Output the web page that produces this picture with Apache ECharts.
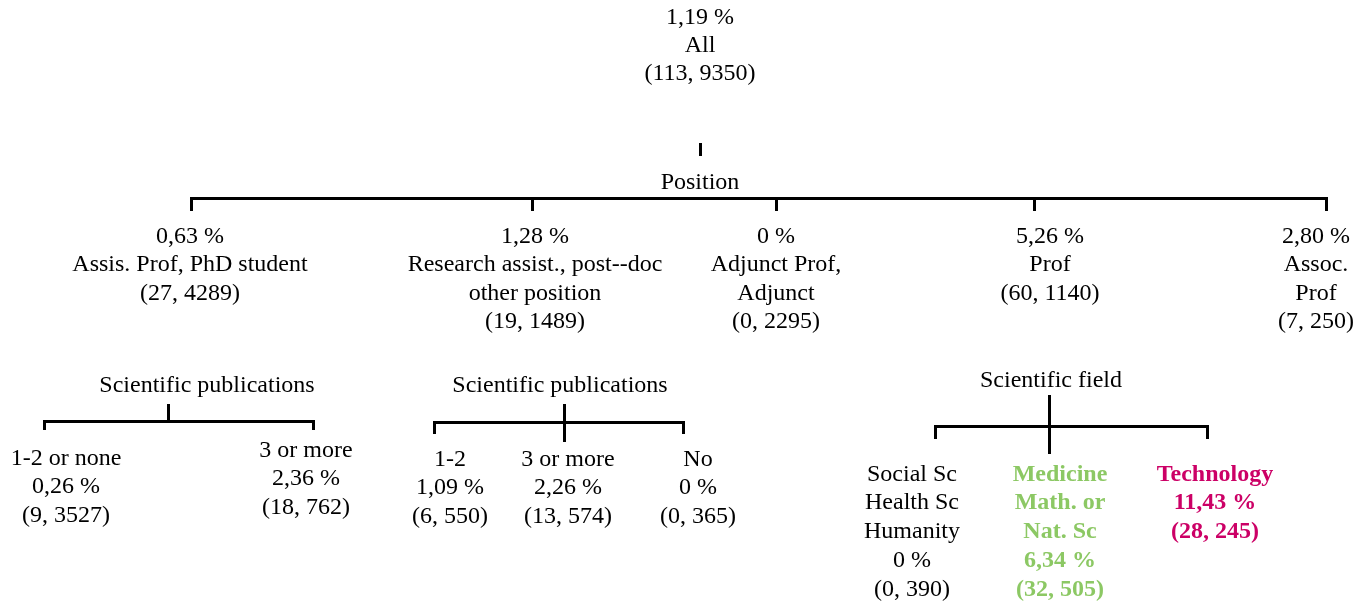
<!DOCTYPE html>
<html>
<head>
<meta charset="utf-8">
<title>Tree</title>
<script src="https://cdn.jsdelivr.net/npm/echarts@6/dist/echarts.min.js"></script>
<style>
  html, body { margin: 0; padding: 0; background: #fff; }
  #chart { width: 1358px; height: 602px; }
</style>
</head>
<body>
<div id="chart"></div>
<script>
// root node
const rootName = 'All';
const rootRate = 1.19;
const rootCount = [113, 9350];

// first split
const positionTitle = 'Position';
const positionNames = ['Assis. Prof, PhD student', 'Research assist., post--doc\nother position', 'Adjunct Prof,\nAdjunct', 'Prof', 'Assoc.\nProf'];
const positionRates = [0.63, 1.28, 0, 5.26, 2.80];
const positionCounts = [[27, 4289], [19, 1489], [0, 2295], [60, 1140], [7, 250]];

// second splits
const pubTitle = 'Scientific publications';
const assisPubNames = ['1-2 or none', '3 or more'];
const assisPubRates = [0.26, 2.36];
const assisPubCounts = [[9, 3527], [18, 762]];

const researchPubNames = ['1-2', '3 or more', 'No'];
const researchPubRates = [1.09, 2.26, 0];
const researchPubCounts = [[6, 550], [13, 574], [0, 365]];

const fieldTitle = 'Scientific field';
const fieldNames = ['Social Sc\nHealth Sc\nHumanity', 'Medicine\nMath. or\nNat. Sc', 'Technology'];
const fieldRates = [0, 6.34, 11.43];
const fieldCounts = [[0, 390], [32, 505], [28, 245]];

const GREEN = '#8cc864';
const MAGENTA = '#cc0066';
const FONT = '"Liberation Serif", "Times New Roman", serif';

const fmtRate = v => (v === 0 ? '0 %' : v.toFixed(2).replace('.', ',') + ' %');
const fmtCount = c => '(' + c[0] + ', ' + c[1] + ')';

// text blocks: x = centre, y = top of block (axis units = px)
const nodes = [];
function addNode(text, x, y, opts) {
  nodes.push(Object.assign({ text, x, y, lh: 28, color: '#000', bold: false }, opts || {}));
}

addNode([fmtRate(rootRate), rootName, fmtCount(rootCount)].join('\n'), 700, 4);
addNode(positionTitle, 700, 169);

const positionX = [190, 535, 776, 1050, 1316];
positionNames.forEach((n, i) => {
  addNode([fmtRate(positionRates[i]), n, fmtCount(positionCounts[i])].join('\n'), positionX[i], 222, { lh: 28.5 });
});

addNode(pubTitle, 207, 372);
addNode(pubTitle, 560, 372);
addNode(fieldTitle, 1051, 367);

const assisX = [66, 306];
const assisY = [444, 436];
assisPubNames.forEach((n, i) => {
  addNode([n, fmtRate(assisPubRates[i]), fmtCount(assisPubCounts[i])].join('\n'), assisX[i], assisY[i], { lh: 28.5 });
});

const researchX = [450, 568, 698];
researchPubNames.forEach((n, i) => {
  addNode([n, fmtRate(researchPubRates[i]), fmtCount(researchPubCounts[i])].join('\n'), researchX[i], 445, { lh: 28.5 });
});

const fieldX = [912, 1060, 1215];
const fieldStyle = [{}, { color: GREEN, bold: true }, { color: MAGENTA, bold: true }];
fieldNames.forEach((n, i) => {
  addNode([n, fmtRate(fieldRates[i]), fmtCount(fieldCounts[i])].join('\n'), fieldX[i], 460,
    Object.assign({ lh: 28.8 }, fieldStyle[i]));
});

// connectors: stem (x, y1, y2), bar (x1..x2 at y), drops down to dropEnd
const brackets = [
  { stem: [700.5, 143, 156] },
  { bar: [191.5, 1326.5, 198.5], drops: [191.5, 532.5, 776.5, 1034.5, 1326.5], dropEnd: 211 },
  { stem: [168.5, 404, 421], bar: [44.5, 313.5, 421.5], drops: [44.5, 313.5], dropEnd: 430 },
  { stem: [564.5, 404, 442], bar: [434.5, 683.5, 422.5], drops: [434.5, 683.5], dropEnd: 434 },
  { stem: [1049.5, 395, 454], bar: [935.5, 1207.5, 426.5], drops: [935.5, 1207.5], dropEnd: 439 },
];

const chart = echarts.init(document.getElementById('chart'));

const lineStyle = { stroke: '#000', lineWidth: 3 };

chart.setOption({
  animation: false,
  grid: { left: 0, right: 0, top: 0, bottom: 0 },
  xAxis: { type: 'value', min: 0, max: 1358, show: false },
  yAxis: { type: 'value', min: 0, max: 602, inverse: true, show: false },
  series: [
    {
      type: 'custom',
      coordinateSystem: 'cartesian2d',
      data: brackets.map((b, i) => [0, 0, i]),
      encode: { x: 0, y: 1 },
      silent: true,
      renderItem: (params, api) => {
        const b = brackets[api.value(2)];
        const children = [];
        const seg = (x1, y1, x2, y2) => {
          const p1 = api.coord([x1, y1]);
          const p2 = api.coord([x2, y2]);
          children.push({
            type: 'line',
            shape: { x1: p1[0], y1: p1[1], x2: p2[0], y2: p2[1] },
            style: lineStyle,
          });
        };
        if (b.stem) seg(b.stem[0], b.stem[1], b.stem[0], b.stem[2]);
        if (b.bar) {
          seg(b.bar[0] - 1.5, b.bar[2], b.bar[1] + 1.5, b.bar[2]);
          b.drops.forEach(x => seg(x, b.bar[2], x, b.dropEnd));
        }
        return { type: 'group', children };
      },
    },
    {
      type: 'custom',
      coordinateSystem: 'cartesian2d',
      data: nodes.map((n, i) => [n.x, n.y, i]),
      encode: { x: 0, y: 1 },
      silent: true,
      renderItem: (params, api) => {
        const n = nodes[api.value(2)];
        const p = api.coord([n.x, n.y]);
        return {
          type: 'text',
          x: p[0],
          y: p[1],
          style: {
            text: n.text,
            textAlign: 'center',
            textVerticalAlign: 'top',
            font: (n.bold ? 'bold ' : '') + '24px ' + FONT,
            fill: n.color,
            lineHeight: n.lh,
          },
        };
      },
    },
  ],
});
</script>
</body>
</html>
